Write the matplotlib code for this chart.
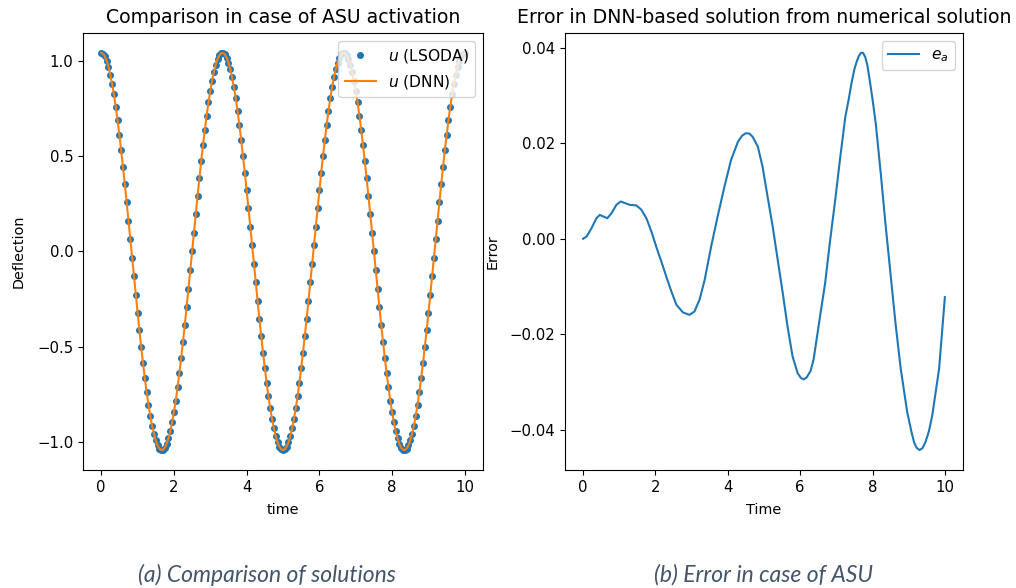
import numpy as np
import matplotlib
matplotlib.use('Agg')
from matplotlib import pyplot as plt

# deflection u(t), sampled every 0.05 s from 0 to 10
time = np.linspace(0, 10, 201)
u_lsoda = [
    1.045, 1.040, 1.026, 1.004, 0.972, 0.931, 0.882, 0.826, 0.762, 0.691,
    0.614, 0.532, 0.445, 0.354, 0.260, 0.163, 0.066, -0.033, -0.131, -0.228,
    -0.323, -0.415, -0.503, -0.587, -0.666, -0.739, -0.805, -0.864, -0.916, -0.959,
    -0.994, -1.020, -1.037, -1.044, -1.043, -1.032, -1.012, -0.983, -0.946, -0.899,
    -0.845, -0.784, -0.715, -0.640, -0.560, -0.474, -0.385, -0.292, -0.196, -0.098,
    0.000, 0.098, 0.196, 0.292, 0.385, 0.474, 0.560, 0.640, 0.715, 0.784,
    0.845, 0.899, 0.946, 0.983, 1.012, 1.032, 1.043, 1.044, 1.037, 1.020,
    0.994, 0.959, 0.916, 0.864, 0.805, 0.739, 0.666, 0.587, 0.503, 0.415,
    0.323, 0.228, 0.131, 0.033, -0.066, -0.163, -0.260, -0.354, -0.445, -0.532,
    -0.614, -0.691, -0.762, -0.826, -0.882, -0.931, -0.972, -1.004, -1.026, -1.040,
    -1.045,
    -1.040, -1.026, -1.004, -0.972, -0.931, -0.882, -0.826, -0.762, -0.691, -0.614,
    -0.532, -0.445, -0.354, -0.260, -0.163, -0.066, 0.033, 0.131, 0.228, 0.323,
    0.415, 0.503, 0.587, 0.666, 0.739, 0.805, 0.864, 0.916, 0.959, 0.994,
    1.020, 1.037, 1.044, 1.043, 1.032, 1.012, 0.983, 0.946, 0.899, 0.845,
    0.784, 0.715, 0.640, 0.560, 0.474, 0.385, 0.292, 0.196, 0.098, 0.000,
    -0.098, -0.196, -0.292, -0.385, -0.474, -0.560, -0.640, -0.715, -0.784, -0.845,
    -0.899, -0.946, -0.983, -1.012, -1.032, -1.043, -1.044, -1.037, -1.020, -0.994,
    -0.959, -0.916, -0.864, -0.805, -0.739, -0.666, -0.587, -0.503, -0.415, -0.323,
    -0.228, -0.131, -0.033, 0.066, 0.163, 0.260, 0.354, 0.445, 0.532, 0.614,
    0.691, 0.762, 0.826, 0.882, 0.931, 0.972, 1.004, 1.026, 1.040, 1.045,
]
# DNN prediction is on top of the LSODA points at this scale
u_dnn = list(u_lsoda)

# error e_a(t)
t_err = [0.00, 0.10, 0.23, 0.37, 0.46, 0.55, 0.67, 0.79, 0.92, 1.04,
         1.15, 1.29, 1.47, 1.61, 1.75, 1.89, 2.02, 2.16, 2.30, 2.44,
         2.58, 2.76, 2.94, 3.08, 3.22, 3.36, 3.54, 3.72, 3.91, 4.09,
         4.28, 4.40, 4.50, 4.60, 4.69, 4.83, 4.96, 5.10, 5.24, 5.38, 5.52,
         5.65, 5.79, 5.93, 6.02, 6.10, 6.18, 6.29, 6.37, 6.55, 6.69, 6.83, 6.97,
         7.11, 7.25, 7.34, 7.42, 7.50, 7.56, 7.62, 7.68, 7.74, 7.80, 7.86,
         7.91, 8.00, 8.09, 8.23,
         8.36, 8.50, 8.64, 8.78, 8.96, 9.08, 9.15, 9.22, 9.30, 9.38, 9.47, 9.56,
         9.65, 9.84, 10.00]
e_a = [0.0000, 0.0005, 0.0022, 0.0043, 0.0050, 0.0047, 0.0043, 0.0054, 0.0071, 0.0078,
       0.0075, 0.0071, 0.0070, 0.0061, 0.0043, 0.0015, -0.0016, -0.0047, -0.0079, -0.0110,
       -0.0138, -0.0154, -0.0159, -0.0152, -0.0127, -0.0086, -0.0016, 0.0047, 0.0110, 0.0165,
       0.0203, 0.0216, 0.0221, 0.0220, 0.0213, 0.0193, 0.0151, 0.0088, 0.0026, -0.0044, -0.0114,
       -0.0183, -0.0246, -0.0281, -0.0291, -0.0294, -0.0290, -0.0276, -0.0253, -0.0162, -0.0093, -0.0002, 0.0082,
       0.0172, 0.0256, 0.0291, 0.0326, 0.0355, 0.0370, 0.0382, 0.0389, 0.0389, 0.0380, 0.0362,
       0.0338, 0.0292, 0.0241, 0.0135,
       0.0030, -0.0075, -0.0180, -0.0272, -0.0363, -0.0405, -0.0426, -0.0437, -0.0442, -0.0438, -0.0424, -0.0402,
       -0.0370, -0.0272, -0.0122]

plt.rcParams['xtick.labelsize'] = 10.7
plt.rcParams['ytick.labelsize'] = 10.7
plt.rcParams['axes.titlesize'] = 13.6
plt.rcParams['axes.labelsize'] = 10.4
plt.rcParams['legend.fontsize'] = 11.2

fig = plt.figure(figsize=(10.16, 5.88), dpi=100)
ax1 = fig.add_axes([0.0817, 0.2007, 0.3937, 0.7432])
ax2 = fig.add_axes([0.5561, 0.2007, 0.3917, 0.7432])

ax1.plot(time, u_lsoda, 'o', color='C0', markersize=4, label='$u$ (LSODA)')
ax1.plot(time, u_dnn, '-', color='C1', linewidth=1.5, label='$u$ (DNN)')
ax1.set_title('Comparison in case of ASU activation', pad=7)
ax1.set_xlabel('time', labelpad=6)
ax1.set_ylabel('Deflection', labelpad=8)
ax1.legend(loc='upper right')

ax2.plot(t_err, e_a, color='C0', linewidth=1.5, label='$e_a$')
ax2.set_title('Error in DNN-based solution from numerical solution', pad=7)
ax2.set_xlabel('Time', labelpad=6)
ax2.set_ylabel('Error', labelpad=7)
ax2.legend(loc='upper right')

cap = dict(fontsize=16.5, style='italic', color='#44546a', family='Lato', ha='center', va='center')
fig.text(267 / 1016, 1 - 575 / 588, '(a) Comparison of solutions', **cap)
fig.text(764 / 1016, 1 - 575 / 588, '(b) Error in case of ASU', **cap)

fig.savefig('out.png', dpi=100)
